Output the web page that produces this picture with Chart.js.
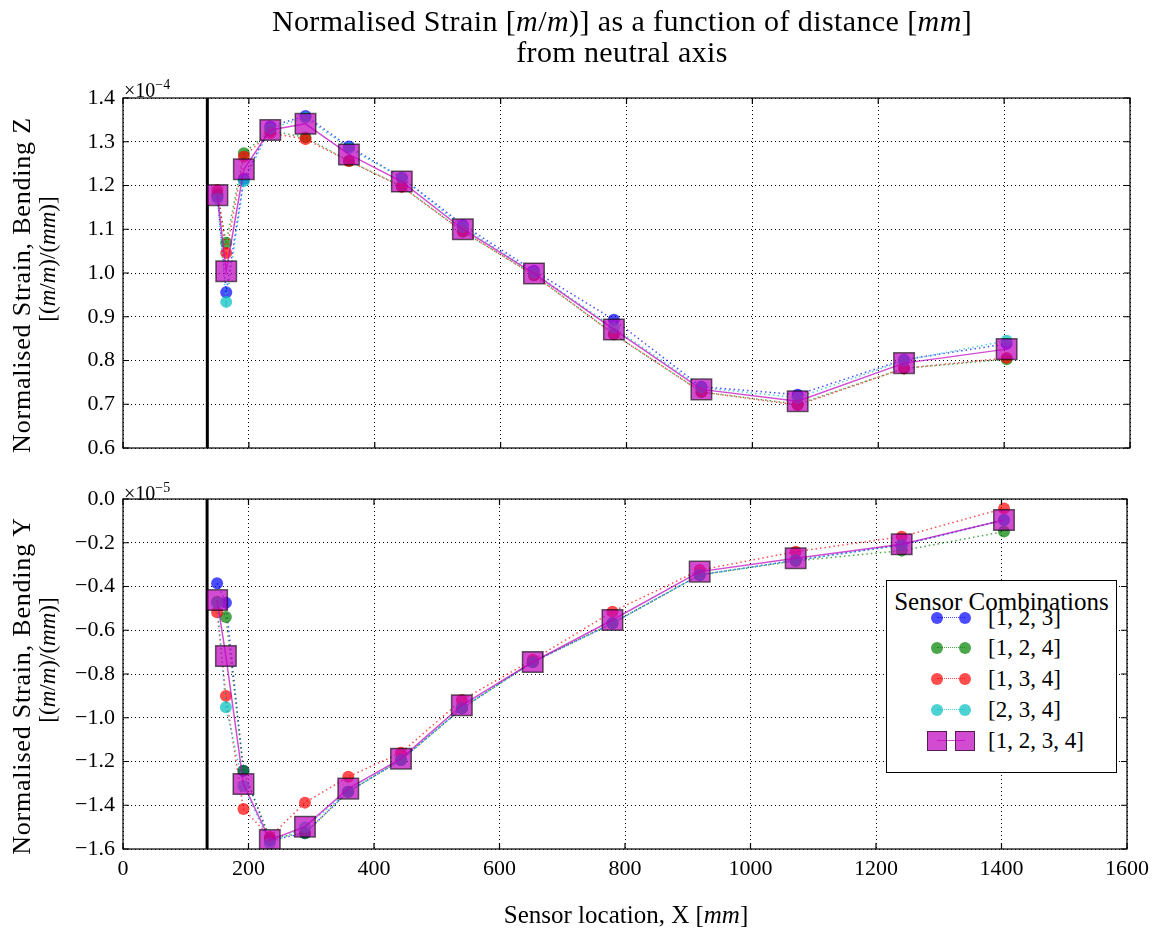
<!DOCTYPE html>
<html>
<head>
<meta charset="utf-8">
<script src="https://cdn.jsdelivr.net/npm/chart.js@4.4.1/dist/chart.umd.min.js"></script>
<style>
  body { margin: 0; background: #fff; }
  #fig { position: relative; width: 1156px; height: 936px; font-family: "Liberation Serif", serif; color: #000; }
  #fig canvas { position: absolute; left: 0; }
  .txt { position: absolute; white-space: nowrap; line-height: 1; }
  .title { left: 622px; transform: translateX(-50%); font-size: 30px; letter-spacing: 0.4px; }
  .ylab { font-size: 23px; transform: translate(-50%, -50%) rotate(-90deg); }
  .ylab.l1 { font-size: 26px; letter-spacing: 0.8px; }
  .offset { font-size: 20px; left: 124px; }
  .offset sup { font-size: 14px; }
  #legend { position: absolute; left: 886px; top: 580px; width: 229px; height: 191px; border: 1.5px solid #000; background: #fff; }
  #legend .lt { position: absolute; left: 0; width: 100%; top: 7px; text-align: center; font-size: 25px; }
  .row { position: absolute; left: 0; height: 24px; }
  .row .lbl { position: absolute; left: 101px; top: 0; font-size: 23px; line-height: 24px; }
</style>
</head>
<body>
<div id="fig">
  <canvas id="chartZ" width="1156" height="470" style="top:0"></canvas>
  <canvas id="chartY" width="1156" height="466" style="top:470px"></canvas>

  <div class="txt title" style="top:6px">Normalised Strain [<i>m</i>/<i>m</i>)] as a function of distance [<i>mm</i>]</div>
  <div class="txt title" style="top:37px">from neutral axis</div>

  <div class="txt ylab l1" style="left:22px; top:285px">Normalised Strain, Bending Z</div>
  <div class="txt ylab" style="left:47px; top:259px">[(<i>m</i>/<i>m</i>)/(<i>mm</i>)]</div>
  <div class="txt ylab l1" style="left:22px; top:686px">Normalised Strain, Bending Y</div>
  <div class="txt ylab" style="left:47px; top:660px">[(<i>m</i>/<i>m</i>)/(<i>mm</i>)]</div>

  <div class="txt offset" style="top:78px">×10<sup>−4</sup></div>
  <div class="txt offset" style="top:481px">×10<sup>−5</sup></div>

  <div class="txt" style="left:626px; top:902px; transform:translateX(-50%); font-size:25px">Sensor location, X [<i>mm</i>]</div>

  <div id="legend"><div class="lt">Sensor Combinations</div></div>
</div>

<script>
// sensor positions along the beam [mm]
const sensorX = [150, 164, 192, 234, 290, 359, 443, 540, 653, 780, 919, 1072, 1241, 1404];
const neutralX = 134;

// bending Z, units of 1e-4 (m/m)/mm
const z123  = [1.175, 0.956, 1.215, 1.335, 1.359, 1.289, 1.218, 1.110, 1.005, 0.893, 0.740, 0.722, 0.802, 0.838];
const z124  = [1.180, 1.069, 1.274, 1.325, 1.310, 1.256, 1.198, 1.095, 0.995, 0.860, 0.728, 0.700, 0.782, 0.803];
const z134  = [1.190, 1.046, 1.266, 1.320, 1.306, 1.256, 1.197, 1.095, 0.995, 0.860, 0.728, 0.698, 0.782, 0.806];
const z234  = [1.170, 0.934, 1.210, 1.330, 1.355, 1.285, 1.218, 1.105, 1.000, 0.875, 0.738, 0.715, 0.800, 0.845];
const zAll  = [1.178, 1.004, 1.237, 1.327, 1.341, 1.271, 1.209, 1.100, 0.999, 0.871, 0.734, 0.707, 0.794, 0.826];

// bending Y, units of 1e-5 (m/m)/mm
const y123  = [-0.385, -0.474, -1.242, -1.560, -1.528, -1.338, -1.193, -0.957, -0.745, -0.568, -0.347, -0.280, -0.210, -0.096];
const y124  = [-0.470, -0.539, -1.242, -1.550, -1.528, -1.338, -1.193, -0.957, -0.745, -0.568, -0.347, -0.283, -0.236, -0.149];
const y134  = [-0.518, -0.900, -1.417, -1.545, -1.388, -1.270, -1.160, -0.919, -0.735, -0.515, -0.325, -0.241, -0.172, -0.043];
const y234  = [-0.475, -0.952, -1.312, -1.575, -1.500, -1.338, -1.193, -0.957, -0.745, -0.568, -0.347, -0.280, -0.210, -0.096];
const yAll  = [-0.462, -0.718, -1.303, -1.559, -1.498, -1.324, -1.187, -0.943, -0.745, -0.553, -0.332, -0.271, -0.207, -0.096];

const seriesNames = ['[1, 2, 3]', '[1, 2, 4]', '[1, 3, 4]', '[2, 3, 4]', '[1, 2, 3, 4]'];
const seriesColors = ['rgba(0,0,255,0.7)', 'rgba(0,128,0,0.7)', 'rgba(255,0,0,0.7)', 'rgba(0,191,191,0.7)', 'rgba(191,0,191,0.7)'];

const xTicks = [0, 200, 400, 600, 800, 1000, 1200, 1400, 1600];
const zRange = [0.6, 1.4];
const yRange = [-1.6, 0.0];

const FONT = "'Liberation Serif', serif";

function pts(vals) {
  return vals.map((v, i) => ({ x: sensorX[i], y: v }));
}

function makeDatasets(groups, range) {
  const ds = groups.map((vals, i) => {
    const all = i === 4;
    return {
      label: seriesNames[i],
      data: pts(vals),
      order: 5 - i,
      borderColor: seriesColors[i],
      borderWidth: 1.5,
      borderDash: all ? [] : [1.5, 3],
      pointStyle: all ? 'rect' : 'circle',
      pointRadius: all ? 14.5 : 6,
      pointBackgroundColor: seriesColors[i],
      pointBorderColor: all ? 'rgba(0,0,0,0.6)' : 'rgba(0,0,0,0)',
      pointBorderWidth: all ? 1.5 : 0,
      tension: 0
    };
  });
  ds.push({
    label: 'neutral',
    data: [{ x: neutralX, y: range[0] }, { x: neutralX, y: range[1] }],
    borderColor: '#000',
    borderWidth: 3,
    pointRadius: 0,
    order: 10
  });
  return ds;
}

// axes frame with inward ticks, like the matplotlib original
const framePlugin = {
  id: 'frame',
  afterDraw(chart) {
    const { ctx, chartArea: a, scales } = chart;
    ctx.save();
    ctx.strokeStyle = '#000';
    ctx.lineWidth = 1.2;
    ctx.strokeRect(a.left, a.top, a.right - a.left, a.bottom - a.top);
    ctx.beginPath();
    scales.x.ticks.forEach(t => {
      const px = scales.x.getPixelForValue(t.value);
      ctx.moveTo(px, a.bottom); ctx.lineTo(px, a.bottom - 6);
      ctx.moveTo(px, a.top); ctx.lineTo(px, a.top + 6);
    });
    scales.y.ticks.forEach(t => {
      const py = scales.y.getPixelForValue(t.value);
      ctx.moveTo(a.left, py); ctx.lineTo(a.left + 6, py);
      ctx.moveTo(a.right, py); ctx.lineTo(a.right - 6, py);
    });
    ctx.stroke();
    ctx.restore();
  }
};

function fmt(v) {
  if (Math.abs(v) < 1e-9) return '0.0';
  return (v < 0 ? '\u2212' : '') + Math.abs(v).toFixed(1);
}

function makeChart(id, groups, range, step, showX, pad, xHeight) {
  return new Chart(document.getElementById(id), {
    type: 'line',
    data: { datasets: makeDatasets(groups, range) },
    options: {
      responsive: false,
      animation: false,
      layout: { padding: { top: pad, right: 26, left: 0, bottom: 0 } },
      plugins: { legend: { display: false }, tooltip: { enabled: false } },
      scales: {
        x: {
          type: 'linear',
          min: xTicks[0],
          max: xTicks[xTicks.length - 1],
          afterBuildTicks: s => { s.ticks = xTicks.map(v => ({ value: v })); },
          afterFit: s => { s.height = xHeight; },
          grid: { color: '#000', lineWidth: 1, drawTicks: false },
          border: { display: false, dash: [1, 3] },
          ticks: { display: showX, padding: 7, color: '#000', font: { family: FONT, size: 22 }, maxRotation: 0,
                   callback: v => String(v) }
        },
        y: {
          min: range[0],
          max: range[1],
          afterFit: s => { s.width = 123; },
          grid: { color: '#000', lineWidth: 1, drawTicks: false },
          border: { display: false, dash: [1, 3] },
          ticks: { stepSize: step, padding: 8, color: '#000', font: { family: FONT, size: 22 }, callback: fmt }
        }
      }
    },
    plugins: [framePlugin]
  });
}

makeChart('chartZ', [z123, z124, z134, z234, zAll], zRange, 0.1, false, 98, 22);
makeChart('chartY', [y123, y124, y134, y234, yAll], yRange, 0.2, true, 29, 87);

// legend box
const legend = document.getElementById('legend');
const rowTops = [37, 67, 98, 129, 160];
seriesNames.forEach((name, i) => {
  const row = document.createElement('div');
  row.className = 'row';
  row.style.top = (rowTops[i] - 12) + 'px';
  row.style.width = '100%';
  const all = i === 4;
  const line = document.createElement('div');
  line.style.cssText = 'position:absolute;left:50px;width:28px;top:11px;height:0;border-top:1.5px ' +
    (all ? 'solid ' : 'dotted ') + seriesColors[i];
  row.appendChild(line);
  [50, 78].forEach(cx => {
    const m = document.createElement('div');
    const s = all ? 20 : 12;
    m.style.cssText = 'position:absolute;left:' + (cx - s / 2) + 'px;top:' + (12 - s / 2) + 'px;width:' + s + 'px;height:' + s + 'px;' +
      'background:' + seriesColors[i] + ';box-sizing:border-box;' +
      (all ? 'border:1.5px solid rgba(0,0,0,0.6);' : 'border-radius:50%;');
    row.appendChild(m);
  });
  const lbl = document.createElement('div');
  lbl.className = 'lbl';
  lbl.textContent = name;
  row.appendChild(lbl);
  legend.appendChild(row);
});
</script>
</body>
</html>
